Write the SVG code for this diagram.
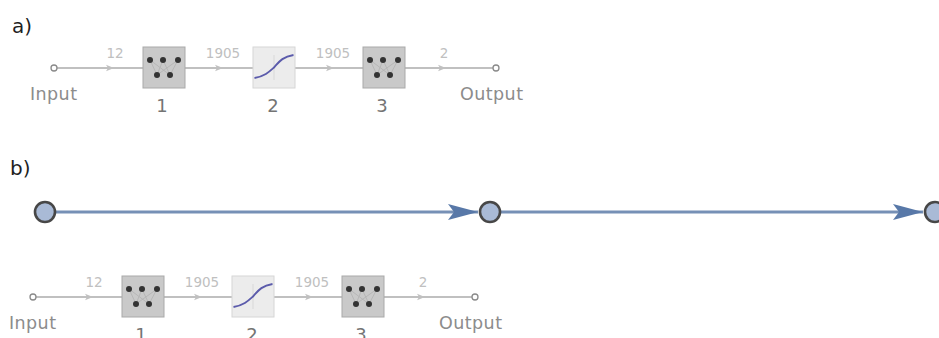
<svg xmlns="http://www.w3.org/2000/svg" width="939" height="338" viewBox="0 0 939 338">
  <style>
    .lbl { font-family: "DejaVu Sans", "Liberation Sans", sans-serif; fill: #1f1f1f; font-size: 20px; }
    .port { fill: #fff; stroke: #8a8a8a; stroke-width: 1.3; }
    .portTxt { font-family: "DejaVu Sans", "Liberation Sans", sans-serif; fill: #8c8c8c; font-size: 17.5px; }
    .idx { font-family: "DejaVu Sans", "Liberation Sans", sans-serif; fill: #747474; font-size: 18px; text-anchor: middle; }
    .dim { font-family: "DejaVu Sans", "Liberation Sans", sans-serif; fill: #c0c0c0; font-size: 13.5px; text-anchor: middle; }
    .wire { stroke: #ababab; stroke-width: 1.3; fill: none; }
    .chev { fill: #c0c0c0; }
    .dense { fill: #c9c9c9; stroke: #a9a9a9; stroke-width: 1; }
    .sig { fill: #ececec; stroke: #d6d6d6; stroke-width: 1; }
    .g-node { fill: #a9bad6; stroke: #474747; stroke-width: 2.6; }
    .g-edge { stroke: #7690b6; stroke-width: 3; fill: none; }
  </style>
  <defs>
    <!-- linear layer: 3 inputs fanning into 2 outputs -->
    <g id="denseIcon">
      <rect class="dense" x="0" y="0" width="42" height="41"/>
      <g stroke="#b4b4b4" stroke-width="0.9">
        <line x1="7" y1="13" x2="14" y2="28"/><line x1="7" y1="13" x2="27" y2="28"/>
        <line x1="20" y1="13" x2="14" y2="28"/><line x1="20" y1="13" x2="27" y2="28"/>
        <line x1="35" y1="13" x2="14" y2="28"/><line x1="35" y1="13" x2="27" y2="28"/>
      </g>
      <g fill="#333">
        <circle cx="7" cy="13" r="3"/><circle cx="20" cy="13" r="3"/><circle cx="35" cy="13" r="3"/>
        <circle cx="14" cy="28" r="3"/><circle cx="27" cy="28" r="3"/>
      </g>
    </g>
    <!-- sigmoid activation -->
    <g id="sigIcon">
      <rect class="sig" x="0" y="0" width="42" height="41"/>
      <g stroke="#d4d4d4" stroke-width="0.8">
        <line x1="21" y1="8" x2="21" y2="33"/>
      </g>
      <path d="M1.5,31 C12,29 16,25 21,20.5 C26,15 29,10 40.5,8" fill="none" stroke="#5b5bab" stroke-width="1.9"/>
    </g>
    <path id="chevron" d="M-5,-3.2 L3,0 L-5,3.2 L-3,0 Z"/>
    <marker id="gArrow" viewBox="0 0 30 16" refX="30" refY="8" markerWidth="30" markerHeight="16" markerUnits="userSpaceOnUse" orient="auto">
      <path d="M0,0 L30,8 L0,16 L6,8 Z" fill="#5878a8"/>
    </marker>
  </defs>

  <!-- panel a -->
  <text class="lbl" x="12" y="33">a)</text>
  <g id="netA">
    <g id="a-connectors">
      <line class="wire" x1="57" y1="68" x2="143" y2="68"/>
      <line class="wire" x1="185" y1="68" x2="253" y2="68"/>
      <line class="wire" x1="295" y1="68" x2="363" y2="68"/>
      <line class="wire" x1="405" y1="68" x2="493" y2="68"/>
      <use href="#chevron" class="chev" x="111" y="68"/>
      <use href="#chevron" class="chev" x="220" y="68"/>
      <use href="#chevron" class="chev" x="331" y="68"/>
      <use href="#chevron" class="chev" x="443" y="68"/>
      <text class="dim" x="115" y="58">12</text>
      <text class="dim" x="223" y="58">1905</text>
      <text class="dim" x="333" y="58">1905</text>
      <text class="dim" x="444" y="58">2</text>
    </g>
    <g id="a-input">
      <circle class="port" cx="54" cy="68" r="3"/>
      <text class="portTxt" x="30" y="100" textLength="47">Input</text>
    </g>
    <g id="a-layer1">
      <use href="#denseIcon" x="143" y="47"/>
      <text class="idx" x="162" y="112">1</text>
    </g>
    <g id="a-layer2">
      <use href="#sigIcon" x="253" y="47"/>
      <text class="idx" x="273" y="112">2</text>
    </g>
    <g id="a-layer3">
      <use href="#denseIcon" x="363" y="47"/>
      <text class="idx" x="382" y="112">3</text>
    </g>
    <g id="a-output">
      <circle class="port" cx="496" cy="68" r="3"/>
      <text class="portTxt" x="460" y="100" textLength="63">Output</text>
    </g>
  </g>

  <!-- panel b -->
  <text class="lbl" x="10" y="175">b)</text>
  <g id="chain">
    <g id="chain-connectors">
      <line class="g-edge" x1="55" y1="212" x2="478" y2="212" marker-end="url(#gArrow)"/>
      <line class="g-edge" x1="500" y1="212" x2="923" y2="212" marker-end="url(#gArrow)"/>
    </g>
    <g id="g1"><circle class="g-node" cx="45" cy="212" r="10"/></g>
    <g id="g2"><circle class="g-node" cx="490" cy="212" r="10"/></g>
    <g id="g3"><circle class="g-node" cx="935" cy="212" r="10"/></g>
  </g>

  <g id="netB" transform="translate(-21,229)">
    <g id="b-connectors">
      <line class="wire" x1="57" y1="68" x2="143" y2="68"/>
      <line class="wire" x1="185" y1="68" x2="253" y2="68"/>
      <line class="wire" x1="295" y1="68" x2="363" y2="68"/>
      <line class="wire" x1="405" y1="68" x2="493" y2="68"/>
      <use href="#chevron" class="chev" x="111" y="68"/>
      <use href="#chevron" class="chev" x="220" y="68"/>
      <use href="#chevron" class="chev" x="331" y="68"/>
      <use href="#chevron" class="chev" x="443" y="68"/>
      <text class="dim" x="115" y="58">12</text>
      <text class="dim" x="223" y="58">1905</text>
      <text class="dim" x="333" y="58">1905</text>
      <text class="dim" x="444" y="58">2</text>
    </g>
    <g id="b-input">
      <circle class="port" cx="54" cy="68" r="3"/>
      <text class="portTxt" x="30" y="100" textLength="47">Input</text>
    </g>
    <g id="b-layer1">
      <use href="#denseIcon" x="143" y="47"/>
      <text class="idx" x="162" y="112">1</text>
    </g>
    <g id="b-layer2">
      <use href="#sigIcon" x="253" y="47"/>
      <text class="idx" x="273" y="112">2</text>
    </g>
    <g id="b-layer3">
      <use href="#denseIcon" x="363" y="47"/>
      <text class="idx" x="382" y="112">3</text>
    </g>
    <g id="b-output">
      <circle class="port" cx="496" cy="68" r="3"/>
      <text class="portTxt" x="460" y="100" textLength="63">Output</text>
    </g>
  </g>
</svg>
